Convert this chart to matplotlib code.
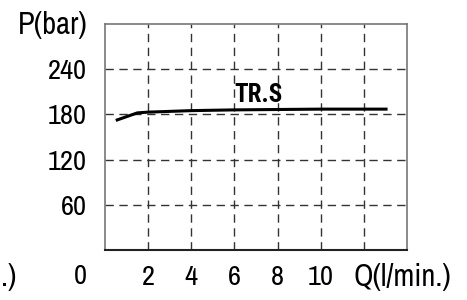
import matplotlib.pyplot as plt

# font
plt.rcParams['font.family'] = ['Archivo Narrow', 'DejaVu Sans']

# data
q = [0.5, 1.0, 1.5, 2, 4, 6, 8, 10, 12, 13.1]
p = [172, 177, 182, 183, 185, 186, 186.5, 187, 187, 187]
x_ticks = [2, 4, 6, 8, 10, 12]
x_labels = ['2', '4', '6', '8', '10', '']
y_ticks = [60, 120, 180, 240]
y_labels = ['60', '120', '180', '240']

fig = plt.figure(figsize=(4.67, 3.0), dpi=100)
ax = fig.add_axes([0.2248, 0.1667, 0.6467, 0.7533])

ax.plot(q, p, color='black', lw=2.2, solid_capstyle='butt')
ax.text(7.1, 197, 'TR.S', fontsize=18, fontweight='bold', ha='center', va='baseline',
        family=['Roboto Condensed', 'DejaVu Sans'])

ax.set_xlim(0, 14)
ax.set_ylim(0, 300)
ax.set_xticks(x_ticks)
ax.set_xticklabels(x_labels)
ax.set_yticks(y_ticks)
ax.set_yticklabels(y_labels)
ax.tick_params(length=0, labelsize=20.5)
ax.tick_params(axis='x', pad=11)
ax.tick_params(axis='y', pad=13)
ax.grid(True, color='#333333', linestyle=(0, (6, 4)), lw=1.0)

for s in ['left', 'top', 'right']:
    ax.spines[s].set_color('#777777')
    ax.spines[s].set_linewidth(1.2)
ax.spines['bottom'].set_color('#222222')
ax.spines['bottom'].set_linewidth(1.5)

fig.text(88 / 467, 1 - 25 / 300, 'P(bar)', fontsize=22, ha='right', va='center')
fig.text(80 / 467, 1 - 277 / 300, '0', fontsize=20.5, ha='center', va='center')
fig.text(402 / 467, 1 - 277 / 300, 'Q(l/min.)', fontsize=22, ha='center', va='center')
fig.text(1 / 467, 1 - 277 / 300, '.)', fontsize=22, ha='left', va='center')

plt.savefig('out.png', dpi=100)
